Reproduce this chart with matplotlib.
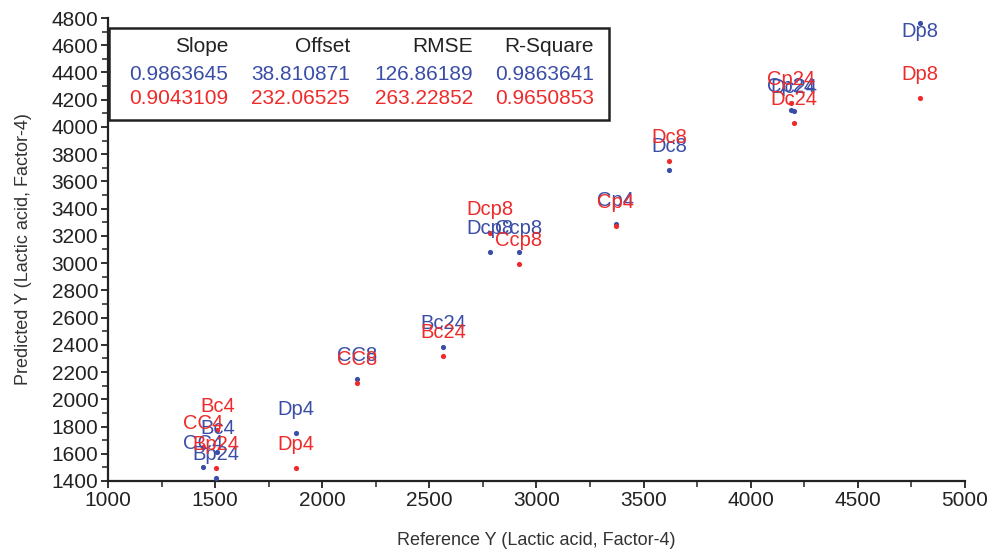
import matplotlib.pyplot as plt
import numpy as np
from matplotlib.ticker import MultipleLocator

# sample names and values
labels = ['Dp8', 'Cp24', 'Dc24', 'Dc8', 'Cp4', 'Ccp8', 'Dcp8',
          'Bc24', 'CC8', 'Dp4', 'Bc4', 'CC4', 'Bp24']
ref_y = [4790, 4190, 4200, 3618, 3371, 2918, 2785,
         2564, 2162, 1877, 1511, 1443, 1504]
pred_blue = [4763, 4125, 4118, 3684, 3287, 3082, 3082,
             2384, 2149, 1752, 1613, 1503, 1422]
pred_red = [4212, 4176, 4029, 3750, 3273, 2993, 3221,
            2318, 2120, 1495, 1775, 1650, 1495]

stat_names = ['Slope', 'Offset', 'RMSE', 'R-Square']
stats_blue = ['0.9863645', '38.810871', '126.86189', '0.9863641']
stats_red = ['0.9043109', '232.06525', '263.22852', '0.9650853']

blue = '#3a4ea6'
red = '#ee2b2b'
dark = '#222222'

plt.rcParams['font.family'] = ['Liberation Sans', 'DejaVu Sans']

fig = plt.figure(figsize=(9.89, 5.49), dpi=100)
ax = fig.add_axes([0.1092, 0.1239, 0.8665, 0.8433])

ax.scatter(ref_y, pred_blue, s=14, color=blue, zorder=3, linewidths=0)
ax.scatter(ref_y, pred_red, s=14, color=red, zorder=3, linewidths=0)

ax.set_xlim(1000, 5000)
ax.set_ylim(1400, 4800)

for vals, col in [(pred_blue, blue), (pred_red, red)]:
    for x, y, name in zip(ref_y, vals, labels):
        if y > 4650:
            ax.annotate(name, (x, y), xytext=(0, -6), textcoords='offset points',
                        ha='center', va='center', color=col, fontsize=14.5, zorder=4)
        else:
            ax.annotate(name, (x, y), xytext=(0, 17), textcoords='offset points',
                        ha='center', va='center', color=col, fontsize=14.5, zorder=4)

ax.xaxis.set_major_locator(MultipleLocator(500))
ax.xaxis.set_minor_locator(MultipleLocator(250))
ax.yaxis.set_major_locator(MultipleLocator(200))
ax.yaxis.set_minor_locator(MultipleLocator(100))

for s in ['top', 'right']:
    ax.spines[s].set_visible(False)
for s in ['left', 'bottom']:
    ax.spines[s].set_linewidth(1.6)
    ax.spines[s].set_color(dark)

ax.tick_params(which='major', length=5, width=1.3, colors=dark, labelsize=15, pad=2)
ax.tick_params(which='minor', length=4, width=1.1, colors=dark)

ax.set_xlabel('Reference Y (Lactic acid, Factor-4)', fontsize=13, color='#333333', labelpad=16)
ax.set_ylabel('Predicted Y (Lactic acid, Factor-4)', fontsize=13, color='#333333', labelpad=14)

# stats box
box = plt.Rectangle((109 / 989, 1 - 120 / 549), 500 / 989, 92 / 549, transform=fig.transFigure,
                    fill=True, facecolor='white', edgecolor=dark, linewidth=1.8, zorder=5)
fig.patches.append(box)
col_right = [228, 350, 473, 594]
for i, xr in enumerate(col_right):
    fx = xr / 989
    fig.text(fx, 1 - 46 / 549, stat_names[i], ha='right', va='center', fontsize=15, color=dark, zorder=6)
    fig.text(fx, 1 - 74 / 549, stats_blue[i], ha='right', va='center', fontsize=15, color=blue, zorder=6)
    fig.text(fx, 1 - 98 / 549, stats_red[i], ha='right', va='center', fontsize=15, color=red, zorder=6)

fig.savefig('out.png', dpi=100)
